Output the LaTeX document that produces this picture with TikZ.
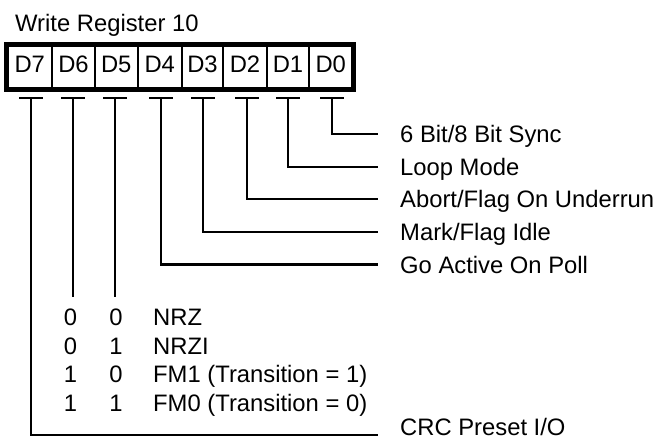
\documentclass[tikz,border=0pt]{standalone}
\usepackage{fontspec}
\setmainfont{Liberation Sans}
\begin{document}
\begin{tikzpicture}[x=1pt,y=-1pt,
  every node/.style={font=\fontsize{23.8}{28}\selectfont},
  cell/.style={draw,line width=2pt,minimum height=43pt,inner sep=0pt,text height=17.2pt,text depth=6pt},
  wire/.style={line width=2.6pt},
  tbar/.style={line width=2.6pt},
  lbl/.style={anchor=west,inner sep=0pt,text height=17.2pt,text depth=0pt},
  dig/.style={inner sep=0pt,text height=17.2pt,text depth=0pt}]
\useasboundingbox (0,0) rectangle (659,442);
% title
\node[lbl] (title) at (15,23) {Write Register 10};
% register cells
\node[cell,minimum width=44.5pt] (c7) at (29.75,67) {D7};
\node[cell,minimum width=43pt]   (c6) at (73.5,67) {D6};
\node[cell,minimum width=42.5pt] (c5) at (116.25,67) {D5};
\node[cell,minimum width=44.5pt] (c4) at (159.75,67) {D4};
\node[cell,minimum width=41pt]   (c3) at (202.5,67) {D3};
\node[cell,minimum width=44pt]   (c2) at (245,67) {D2};
\node[cell,minimum width=42pt]   (c1) at (288,67) {D1};
\node[cell,minimum width=43.5pt] (c0) at (330.75,67) {D0};
\draw[line width=5pt] (c7.north west) rectangle (c0.south east);
% T tops
\foreach \n/\x in {7/31,6/73,5/115,4/161,3/203,2/247,1/288,0/332}{
  \coordinate (t\n) at (\x,98);
  \draw[tbar] ([xshift=-12pt]t\n) -- ([xshift=12pt]t\n);
}
% labels
\node[lbl] (l0) at (400,134) {6 Bit/8 Bit Sync};
\node[lbl] (l1) at (400,167) {Loop Mode};
\node[lbl] (l2) at (400,199) {Abort/Flag On Underrun};
\node[lbl] (l3) at (400,232) {Mark/Flag Idle};
\node[lbl] (l4) at (400,264.5) {Go Active On Poll};
\node[lbl] (l7) at (400,427) {CRC Preset I/O};
\coordinate (e7) at (378,435);
\coordinate (s6) at (73,297);
\coordinate (s5) at (115,297);
% connectors
\foreach \n in {0,1,2,3,4}{
  \draw[wire] (t\n) |- ([xshift=-22pt]l\n.west);
}
\draw[wire] (t7) |- (e7);
\draw[wire] (t6) -- (s6);
\draw[wire] (t5) -- (s5);
% table
\foreach \r/\y/\a/\b/\t in {1/317/0/0/NRZ,2/345.7/0/1/NRZI,3/374.3/1/0/FM1 (Transition = 1),4/403/1/1/FM0 (Transition = 0)}{
  \node[dig] (a\r) at (70.5,\y) {\a};
  \node[dig] (b\r) at (116,\y) {\b};
  \node[lbl] (m\r) at (153,\y) {\t};
}
\end{tikzpicture}
\end{document}
